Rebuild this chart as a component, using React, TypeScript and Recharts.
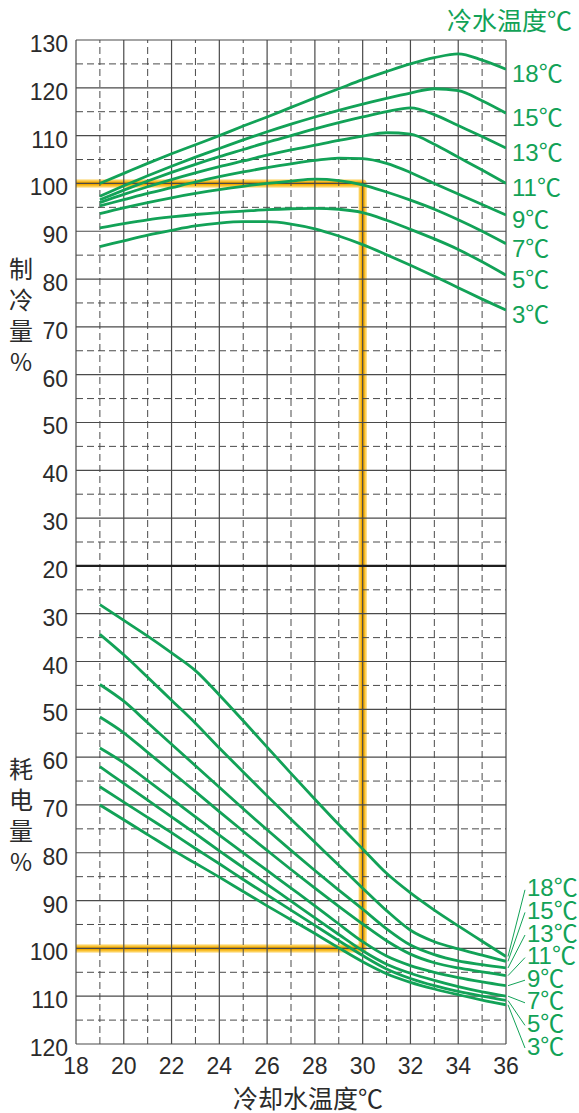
import { LineChart, Line, XAxis, YAxis, ReferenceLine } from "recharts";

// cooling water temperature (x axis)
const coolingWaterTemps = [19, 20, 21, 22, 23, 24, 25, 26, 27, 28, 29, 30, 31, 32, 33, 34, 35, 36];

// capacity % per chilled water temperature
const capacity18 = [100.0, 102.1, 104.2, 106.2, 108.1, 110.0, 112.0, 113.9, 115.9, 117.9, 119.8, 121.7, 123.4, 125.0, 126.3, 127.1, 125.8, 123.9];
const capacity15 = [97.3, 99.5, 101.6, 103.6, 105.5, 107.3, 109.1, 110.8, 112.4, 113.9, 115.3, 116.6, 117.8, 118.9, 119.8, 119.4, 117.3, 114.7];
const capacity13 = [96.6, 98.6, 100.5, 102.3, 104.0, 105.6, 107.1, 108.6, 110.0, 111.4, 112.7, 113.9, 115.0, 115.8, 114.4, 112.1, 109.8, 107.4];
const capacity11 = [96.0, 97.7, 99.3, 100.8, 102.2, 103.5, 104.7, 105.9, 107.0, 108.0, 109.0, 109.9, 110.6, 110.3, 108.2, 105.5, 102.8, 100.0];
const capacity9 = [95.3, 96.6, 97.9, 99.1, 100.3, 101.4, 102.4, 103.3, 104.1, 104.8, 105.3, 105.2, 104.2, 102.3, 100.0, 97.8, 95.6, 93.4];
const capacity7 = [93.7, 94.9, 96.0, 97.0, 97.9, 98.7, 99.4, 100.0, 100.5, 100.9, 100.6, 99.7, 98.2, 96.5, 94.6, 92.4, 90.0, 87.4];
const capacity5 = [90.7, 91.6, 92.4, 93.0, 93.5, 93.9, 94.2, 94.5, 94.7, 94.8, 94.6, 93.9, 92.3, 90.4, 88.4, 86.2, 83.6, 80.8];
const capacity3 = [86.8, 88.0, 89.2, 90.2, 91.1, 91.7, 92.0, 92.0, 91.5, 90.5, 89.0, 87.2, 85.1, 82.9, 80.6, 78.2, 75.8, 73.5];

// power consumption % per chilled water temperature
const power18 = [28.1, 31.4, 34.7, 38.2, 41.9, 47.0, 52.4, 57.9, 63.4, 68.8, 74.1, 79.2, 84.3, 88.4, 92.0, 95.3, 98.5, 101.7];
const power15 = [34.3, 38.6, 43.3, 48.1, 52.9, 58.1, 63.1, 68.1, 73.0, 77.8, 82.6, 87.4, 92.1, 96.2, 98.6, 100.1, 101.4, 102.7];
const power13 = [44.8, 48.3, 52.8, 57.3, 61.8, 66.3, 70.8, 75.2, 79.5, 83.7, 87.8, 91.8, 95.9, 99.3, 101.3, 102.6, 103.4, 104.1];
const power11 = [51.6, 54.9, 59.0, 63.1, 67.2, 71.4, 75.5, 79.5, 83.5, 87.4, 91.2, 94.9, 98.4, 101.2, 103.0, 104.1, 104.9, 105.7];
const power9 = [58.1, 61.2, 64.9, 68.7, 72.5, 76.3, 80.0, 83.7, 87.4, 91.1, 94.9, 98.6, 101.6, 103.6, 105.0, 106.1, 107.0, 107.8];
const power7 = [62.0, 65.5, 69.0, 72.5, 76.0, 79.6, 83.1, 86.6, 90.1, 93.6, 97.1, 100.5, 103.3, 105.2, 106.7, 108.0, 109.1, 110.0];
const power5 = [66.2, 69.4, 72.6, 75.8, 79.1, 82.3, 85.6, 88.8, 92.0, 95.2, 98.4, 101.5, 104.3, 106.3, 107.8, 109.0, 110.0, 110.9];
const power3 = [70.0, 73.1, 76.2, 79.3, 82.2, 85.1, 88.1, 91.1, 94.0, 96.9, 99.9, 102.8, 105.3, 107.1, 108.5, 109.7, 110.8, 111.8];

const chilledLabels = ["18℃", "15℃", "13℃", "11℃", "9℃", "7℃", "5℃", "3℃"];

// ticks
const xTicks = [18, 20, 22, 24, 26, 28, 30, 32, 34, 36];
const xMinorTicks = [19, 21, 23, 25, 27, 29, 31, 33, 35];
const capacityTicks = [30, 40, 50, 60, 70, 80, 90, 100, 110, 120, 130];
const capacityMinor = [25, 35, 45, 55, 65, 75, 85, 95, 105, 115, 125];
const powerTicks = [30, 40, 50, 60, 70, 80, 90, 100, 110, 120];
const powerMinor = [25, 35, 45, 55, 65, 75, 85, 95, 105, 115];
const BASE = 20;

// rated point
const ratedCoolingTemp = 30;
const ratedPct = 100;

// both halves share one axis: capacity upward from 20, power downward from 20
const capToAxis = (v: number) => v - BASE;
const powToAxis = (v: number) => BASE - v;

const capacitySeries = [capacity18, capacity15, capacity13, capacity11, capacity9, capacity7, capacity5, capacity3];
const powerSeries = [power18, power15, power13, power11, power9, power7, power5, power3];

const rows = coolingWaterTemps.map((x, i) => {
  const r: Record<string, number> = { x };
  capacitySeries.forEach((s, k) => (r["c" + k] = capToAxis(s[i])));
  powerSeries.forEach((s, k) => (r["p" + k] = powToAxis(s[i])));
  return r;
});

const ratedPath = [
  { x: 18, u: capToAxis(ratedPct) },
  { x: ratedCoolingTemp, u: capToAxis(ratedPct) },
  { x: ratedCoolingTemp, u: powToAxis(ratedPct) },
  { x: 18, u: powToAxis(ratedPct) },
];

const yMajor = [...powerTicks.map(powToAxis), 0, ...capacityTicks.map(capToAxis)];
const yMinor = [...powerMinor.map(powToAxis), ...capacityMinor.map(capToAxis)];

const W = 579;
const H = 1113;
const margin = { top: 40, right: 73, bottom: 39, left: 8 };
const PLOT_BOTTOM = H - margin.bottom - 30;

const GREEN = "#12a257";
const GRID = "#4a4a4a";
const NUM_FONT = "'Liberation Sans', 'Noto Sans CJK SC', sans-serif";
const CJK_FONT = "'Noto Sans CJK SC', sans-serif";
const LAST = coolingWaterTemps.length - 1;

const capLabel = (k: number) => (p: any) => {
  if (p.index !== LAST) return null;
  return (
    <text x={p.x + 6} y={p.y + 13} fill={GREEN} fontSize={24} fontFamily={NUM_FONT}>
      {chilledLabels[k]}
    </text>
  );
};

const powLabel = (k: number) => (p: any) => {
  if (p.index !== LAST) return null;
  const cy = PLOT_BOTTOM + 2 - (chilledLabels.length - 1 - k) * 22.6;
  return (
    <g>
      <line x1={p.x + 2} y1={p.y} x2={p.x + 19} y2={cy + 2} stroke={GREEN} strokeWidth={1} />
      <text x={p.x + 21} y={cy + 8.5} fill={GREEN} fontSize={24} fontFamily={NUM_FONT}>
        {chilledLabels[k]}
      </text>
    </g>
  );
};

const YTick = (p: any) => (
  <text x={p.x} y={p.y} dy={12} textAnchor="end" fill="#2b2b2b" fontSize={23} fontFamily={NUM_FONT}>
    {Math.abs(p.payload.value) + BASE}
  </text>
);

const XTick = (p: any) => (
  <text x={p.x} y={p.y} dy={22} textAnchor="middle" fill="#2b2b2b" fontSize={23} fontFamily={NUM_FONT}>
    {p.payload.value}
  </text>
);

const vStack = (chars: string[], top: number) => (
  <div
    style={{
      position: "absolute",
      left: 7,
      top,
      width: 28,
      fontSize: 24,
      lineHeight: "31px",
      textAlign: "center",
      color: "#2b2b2b",
      fontFamily: CJK_FONT,
    }}
  >
    {chars.map((c) => (
      <div key={c}>{c}</div>
    ))}
  </div>
);

export default function App() {
  return (
    <div style={{ position: "absolute", left: 0, top: 0, width: W, height: H, background: "#fff" }}>
      <LineChart width={W} height={H} data={rows} margin={margin}>
        <XAxis
          type="number"
          dataKey="x"
          domain={[18, 36]}
          ticks={xTicks}
          axisLine={false}
          tickLine={false}
          tick={<XTick />}
          allowDataOverflow
        />
        <YAxis
          type="number"
          domain={[-100, 110]}
          ticks={yMajor}
          width={68}
          axisLine={false}
          tickLine={false}
          tick={<YTick />}
          interval={0}
          allowDataOverflow
        />
        <Line
          data={ratedPath}
          dataKey="u"
          type="linear"
          stroke="#fcd05a"
          strokeWidth={8}
          strokeLinejoin="round"
          dot={false}
          isAnimationActive={false}
        />
        <Line
          data={ratedPath}
          dataKey="u"
          type="linear"
          stroke="#f5ac00"
          strokeWidth={4}
          strokeLinejoin="round"
          dot={false}
          isAnimationActive={false}
        />
        {xMinorTicks.map((v) => (
          <ReferenceLine key={"xm" + v} x={v} stroke={GRID} strokeWidth={1} strokeDasharray="7 4" />
        ))}
        {yMinor.map((v) => (
          <ReferenceLine key={"ym" + v} y={v} stroke={GRID} strokeWidth={1} strokeDasharray="7 4" />
        ))}
        {xTicks.map((v) => (
          <ReferenceLine key={"x" + v} x={v} stroke={GRID} strokeWidth={1.2} />
        ))}
        {yMajor.map((v) => (
          <ReferenceLine key={"y" + v} y={v} stroke={v === 0 ? "#1e1e1e" : GRID} strokeWidth={v === 0 ? 2.2 : 1.2} />
        ))}
        {capacitySeries.map((_, k) => (
          <Line
            key={"c" + k}
            dataKey={"c" + k}
            type="monotone"
            stroke={GREEN}
            strokeWidth={2.8}
            dot={false}
            label={capLabel(k)}
            isAnimationActive={false}
          />
        ))}
        {powerSeries.map((_, k) => (
          <Line
            key={"p" + k}
            dataKey={"p" + k}
            type="monotone"
            stroke={GREEN}
            strokeWidth={2.8}
            dot={false}
            label={powLabel(k)}
            isAnimationActive={false}
          />
        ))}
      </LineChart>
      <div
        style={{
          position: "absolute",
          left: 447,
          top: 3,
          fontSize: 25,
          lineHeight: "32px",
          color: GREEN,
          fontFamily: CJK_FONT,
          whiteSpace: "nowrap",
        }}
      >
        冷水温度℃
      </div>
      {vStack(["制", "冷", "量", "%"], 252)}
      {vStack(["耗", "电", "量", "%"], 752)}
      <div
        style={{
          position: "absolute",
          left: 233,
          top: 1082,
          fontSize: 25,
          lineHeight: "30px",
          color: "#2b2b2b",
          fontFamily: CJK_FONT,
          whiteSpace: "nowrap",
        }}
      >
        冷却水温度℃
      </div>
    </div>
  );
}
